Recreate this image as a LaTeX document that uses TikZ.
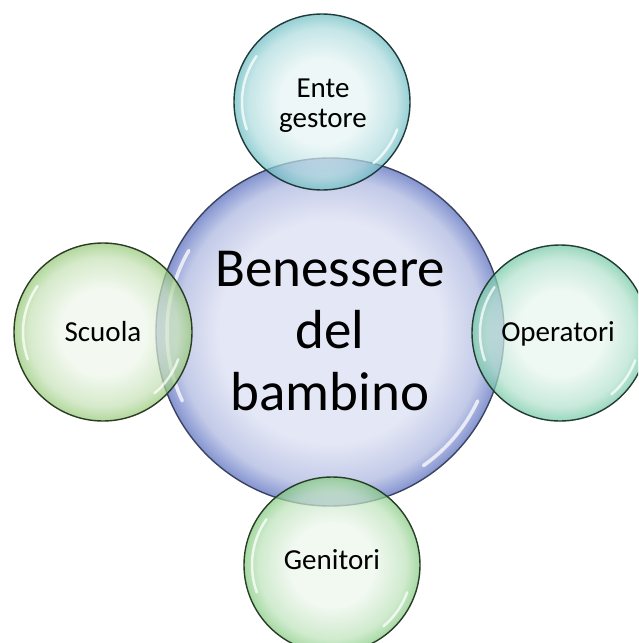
\documentclass[tikz,border=0pt]{standalone}
\usepackage{fontspec}
\setmainfont{Carlito}
\definecolor{cBlue}{HTML}{8494D0}
\definecolor{cBlueIn}{HTML}{E4E7F5}
\definecolor{cTeal}{HTML}{6CBEC3}
\definecolor{cTealIn}{HTML}{E6F4F4}
\definecolor{cGreen}{HTML}{94C876}
\definecolor{cGreenIn}{HTML}{EEF6EA}
\definecolor{cMint}{HTML}{72C8A5}
\definecolor{cMintIn}{HTML}{E8F6EF}
\definecolor{cLeaf}{HTML}{84CB80}
\definecolor{cLeafIn}{HTML}{ECF6EB}
\colorlet{cBlueMid}{cBlue!35!cBlueIn}
\colorlet{cTealMid}{cTeal!45!cTealIn}
\colorlet{cGreenMid}{cGreen!45!cGreenIn}
\colorlet{cMintMid}{cMint!45!cMintIn}
\colorlet{cLeafMid}{cLeaf!45!cLeafIn}
\pgfdeclareradialshading{bubBlue}{\pgfpoint{0bp}{0bp}}{color(0bp)=(cBlueIn); color(16bp)=(cBlueIn); color(22bp)=(cBlueMid); color(25bp)=(cBlue); color(50bp)=(cBlue)}
\pgfdeclareradialshading{bubTeal}{\pgfpoint{0bp}{0bp}}{color(0bp)=(cTealIn); color(12bp)=(cTealIn); color(21bp)=(cTealMid); color(25bp)=(cTeal); color(50bp)=(cTeal)}
\pgfdeclareradialshading{bubGreen}{\pgfpoint{0bp}{0bp}}{color(0bp)=(cGreenIn); color(12bp)=(cGreenIn); color(21bp)=(cGreenMid); color(25bp)=(cGreen); color(50bp)=(cGreen)}
\pgfdeclareradialshading{bubMint}{\pgfpoint{0bp}{0bp}}{color(0bp)=(cMintIn); color(12bp)=(cMintIn); color(21bp)=(cMintMid); color(25bp)=(cMint); color(50bp)=(cMint)}
\pgfdeclareradialshading{bubLeaf}{\pgfpoint{0bp}{0bp}}{color(0bp)=(cLeafIn); color(12bp)=(cLeafIn); color(21bp)=(cLeafMid); color(25bp)=(cLeaf); color(50bp)=(cLeaf)}
\begin{document}
\begin{tikzpicture}[x=1pt,y=-1pt,
  bubble/.style={circle, inner sep=0pt, draw=#1!30!black, line width=1.4pt},
  centraltxt/.style={font=\fontsize{55}{62}\selectfont, anchor=base, inner sep=0pt},
  smalltxt/.style={font=\fontsize{29}{32}\selectfont, anchor=base, inner sep=0pt},
  hl/.style={white, line width=3pt, opacity=0.75, line cap=round}]
\useasboundingbox (0,0) rectangle (638,643);
\clip (0,0) rectangle (638,643);
% central bubble
\node[bubble=cBlue, draw=black!55!cBlue, minimum size=348pt, shading=bubBlue, shade] (centre) at (330,332) {};
\begin{scope}[shift={(centre.center)}, x=1pt, y=1pt]
  \draw[hl, line width=3.5pt] (150:163) arc[start angle=150, end angle=205, radius=163];
  \draw[hl, line width=3.5pt] (-25:163) arc[start angle=-25, end angle=-55, radius=163];
\end{scope}
% satellites
\node[bubble=cTeal, minimum size=176pt, shading=bubTeal, shade, fill opacity=0.72] (ente) at (322,102) {};
\node[bubble=cGreen, minimum size=178pt, shading=bubGreen, shade, fill opacity=0.72] (scuola) at (103,332) {};
\node[bubble=cMint, minimum size=176pt, shading=bubMint, shade, fill opacity=0.72] (operatori) at (560,333) {};
\node[bubble=cLeaf, minimum size=176pt, shading=bubLeaf, shade, fill opacity=0.72] (genitori) at (332,565) {};
% highlights
\foreach \c in {ente,scuola,operatori,genitori}{
  \begin{scope}[shift={(\c.center)}, x=1pt, y=1pt]
    \draw[hl, line width=2.5pt] (145:80) arc[start angle=145, end angle=200, radius=80];
    \draw[hl, line width=2.5pt] (-20:80) arc[start angle=-20, end angle=-50, radius=80];
  \end{scope}
}
% texts
\node[centraltxt] (t1) at (330,286) {Benessere};
\node[centraltxt] (t2) at (330,348) {del};
\node[centraltxt] (t3) at (330,410) {bambino};
\node[smalltxt] (e1) at (323,97) {Ente};
\node[smalltxt] (e2) at (323,127) {gestore};
\node[smalltxt] (s1) at (103,341) {Scuola};
\node[smalltxt] (o1) at (558,341) {Operatori};
\node[smalltxt] (g1) at (332,569) {Genitori};
\end{tikzpicture}
\end{document}
